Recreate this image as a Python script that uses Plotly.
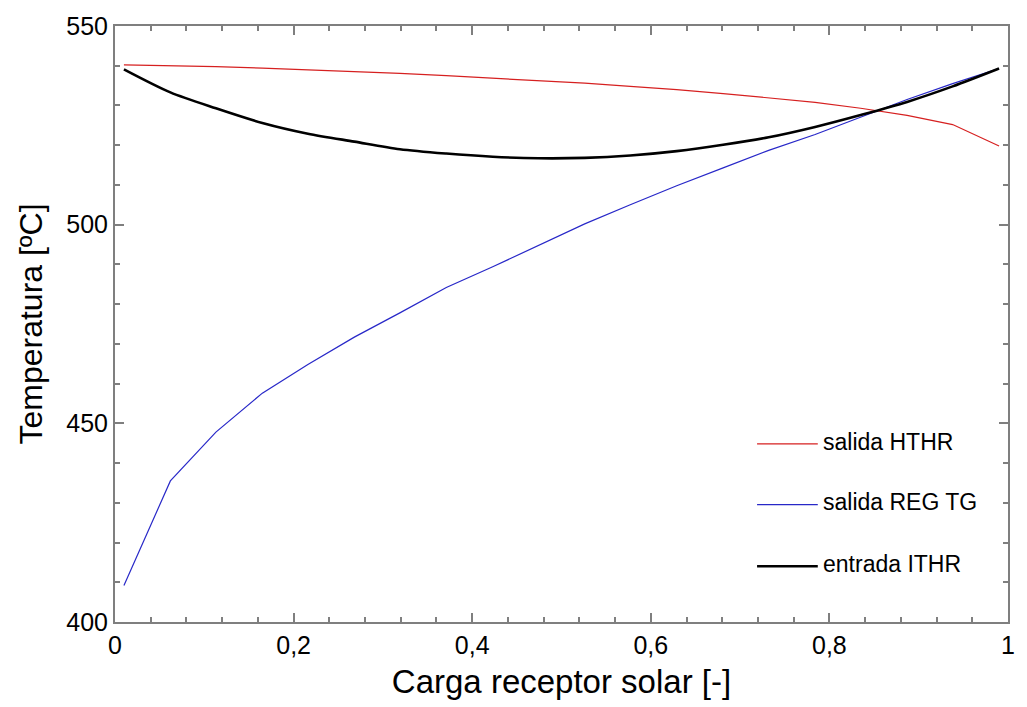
import plotly.graph_objects as go

carga = [0.01, 0.062, 0.113, 0.165, 0.216, 0.268, 0.319, 0.371, 0.423, 0.474,
         0.526, 0.577, 0.629, 0.681, 0.732, 0.784, 0.835, 0.887, 0.938, 0.99]

salida_hthr = [540.2, 540.0, 539.8, 539.4, 539.0, 538.6, 538.1, 537.5, 536.9, 536.3,
               535.6, 534.8, 534.0, 533.0, 532.0, 530.8, 529.3, 527.5, 525.2, 519.8]

salida_reg_tg = [409.2, 435.5, 447.8, 457.6, 464.8, 471.7, 477.8, 484.2, 489.4, 494.7,
                 500.2, 505.0, 509.8, 514.3, 518.7, 522.7, 527.0, 531.5, 535.5, 539.3]

entrada_ithr = [539.1, 533.3, 529.3, 525.6, 522.9, 520.9, 519.0, 517.9, 517.1, 516.7,
                516.8, 517.4, 518.5, 520.1, 522.0, 524.6, 527.6, 530.9, 534.8, 539.3]

series_names = ["salida HTHR", "salida REG TG", "entrada ITHR"]
x_ticks = [0, 0.2, 0.4, 0.6, 0.8, 1]
y_ticks = [400, 450, 500, 550]

font = "Arial, Liberation Sans, sans-serif"
colors = ["#d62020", "#2828c8", "#000000"]
widths = [1.2, 1.2, 2.6]

fig = go.Figure()
fig.add_trace(go.Scatter(x=carga, y=salida_hthr, mode="lines", name=series_names[0],
                         line=dict(color=colors[0], width=widths[0])))
fig.add_trace(go.Scatter(x=carga, y=salida_reg_tg, mode="lines", name=series_names[1],
                         line=dict(color=colors[1], width=widths[1])))
fig.add_trace(go.Scatter(x=carga, y=entrada_ithr, mode="lines", name=series_names[2],
                         line=dict(color=colors[2], width=widths[2], shape="spline",
                                   smoothing=0.8)))

axis_common = dict(
    showgrid=False, zeroline=False,
    showline=True, linecolor="#7f7f7f", linewidth=2,
    mirror="ticks", ticks="inside", ticklen=9, tickwidth=1.5, tickcolor="#7f7f7f",
    tickfont=dict(family=font, size=25, color="black"),
)

fig.update_xaxes(
    range=[0, 1], tickvals=x_ticks,
    minor=dict(ticks="inside", dtick=0.04, ticklen=5, tickwidth=1.5, tickcolor="#7f7f7f"),
    title=dict(text="Carga receptor solar [-]", font=dict(family=font, size=33, color="black"),
               standoff=12),
    **axis_common,
)
fig.update_yaxes(
    range=[400, 550], tickvals=y_ticks,
    minor=dict(ticks="inside", dtick=10, ticklen=5, tickwidth=1.5, tickcolor="#7f7f7f"),
    title=dict(text="Temperatura [ºC]", font=dict(family=font, size=32, color="black"),
               standoff=14),
    **axis_common,
)

# Legend drawn inside the plot area (long line samples, as in the original)
legend_y = [0.2988, 0.197, 0.0935]
for name, col, w, ly in zip(series_names, colors, widths, legend_y):
    fig.add_shape(type="line", xref="paper", yref="paper",
                  x0=0.719, x1=0.787, y0=ly, y1=ly,
                  line=dict(color=col, width=w))
    fig.add_annotation(text=name, xref="paper", yref="paper", x=0.7905, y=ly + 0.004,
                       xanchor="left", yanchor="middle", showarrow=False,
                       font=dict(family=font, size=23, color="black"))

fig.update_layout(
    width=1027, height=707,
    margin=dict(l=115, r=15, t=23, b=85),
    paper_bgcolor="white", plot_bgcolor="white",
    separators=", ",
    showlegend=False,
)

fig.write_html("out.html")
